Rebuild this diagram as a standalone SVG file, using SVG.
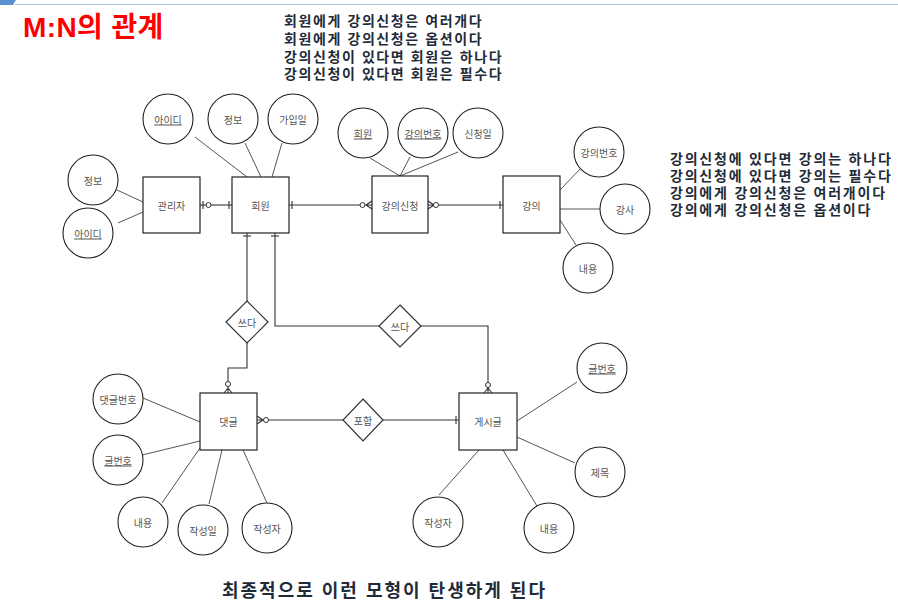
<svg xmlns="http://www.w3.org/2000/svg" width="898" height="611" viewBox="0 0 898 611">
<style>
.ent rect{fill:#fff;stroke:#222;stroke-width:1.2}
.att circle{fill:#fff;stroke:#222;stroke-width:1.1}
.rel polygon{fill:#fff;stroke:#333;stroke-width:1.2}
.lbl{font-family:"Noto Sans CJK KR","Noto Sans",sans-serif;font-size:10px;fill:#555;text-anchor:middle;dominant-baseline:central}
.u{text-decoration:underline}
.ln{stroke:#555;stroke-width:1;fill:none}
.cn{stroke:#333;stroke-width:1.1;fill:none}
.o{fill:#fff;stroke:#333;stroke-width:1}
.note{font-family:"Liberation Sans","Noto Sans CJK KR",sans-serif;font-weight:bold;fill:#1f2b38}
.n1{font-size:14px;letter-spacing:1.6px}
.n2{font-size:14px;letter-spacing:1.8px}
</style>
<rect x="0" y="0" width="898" height="611" fill="#fff"/>
<g id="header">
<polygon points="0,0 16,0 13,5 0,5" fill="#5b8fd0"/>
<line x1="15" y1="4.5" x2="898" y2="4.5" stroke="#a9c4e4" stroke-width="1"/>
<text x="23" y="37" font-family="'Liberation Sans','Noto Sans CJK KR',sans-serif" font-weight="bold" font-size="28" letter-spacing="0.4" fill="#ff0000">M:N의 관계</text>
</g>
<g id="notes" class="note">
<text class="n1" x="284" y="26">회원에게 강의신청은 여러개다</text>
<text class="n1" x="284" y="44">회원에게 강의신청은 옵션이다</text>
<text class="n1" x="284" y="62">강의신청이 있다면 회원은 하나다</text>
<text class="n1" x="284" y="79">강의신청이 있다면 회원은 필수다</text>
<text class="n2" x="670" y="164">강의신청에 있다면 강의는 하나다</text>
<text class="n2" x="670" y="181">강의신청에 있다면 강의는 필수다</text>
<text class="n2" x="670" y="198">강의에게 강의신청은 여러개이다</text>
<text class="n2" x="670" y="215">강의에게 강의신청은 옵션이다</text>
<text x="222" y="597" font-size="18" letter-spacing="2">최종적으로 이런 모형이 탄생하게 된다</text>
</g>
<g id="attr-lines" class="ln">
<line x1="117" y1="190" x2="143" y2="202"/>
<line x1="118" y1="223" x2="143" y2="212"/>
<line x1="195" y1="137" x2="247" y2="177"/>
<line x1="245" y1="143" x2="261" y2="177"/>
<line x1="282" y1="143" x2="272" y2="177"/>
<line x1="370" y1="158" x2="400" y2="176"/>
<line x1="410" y1="157" x2="400" y2="176"/>
<line x1="458" y1="152" x2="400" y2="176"/>
<line x1="560" y1="190" x2="582" y2="167"/>
<line x1="560" y1="209" x2="600" y2="209"/>
<line x1="560" y1="220" x2="576" y2="245"/>
<line x1="143" y1="398" x2="200" y2="422"/>
<line x1="142" y1="455" x2="200" y2="441"/>
<line x1="162" y1="503" x2="200" y2="448"/>
<line x1="209" y1="504" x2="222" y2="450"/>
<line x1="267" y1="503" x2="243" y2="450"/>
<line x1="517" y1="421" x2="577" y2="382"/>
<line x1="517" y1="437" x2="575" y2="463"/>
<line x1="503" y1="450" x2="537" y2="506"/>
<line x1="479" y1="450" x2="439" y2="495"/>
</g>
<g id="connectors" class="cn">
<line x1="200" y1="205" x2="232" y2="205"/>
<line x1="203" y1="201" x2="203" y2="209"/>
<circle class="o" cx="208.5" cy="205" r="2.5"/>
<line x1="229" y1="201" x2="229" y2="209"/>
<line x1="289" y1="205" x2="360" y2="205"/>
<line x1="292" y1="201" x2="292" y2="209"/>
<circle class="o" cx="362.5" cy="205" r="2.5"/>
<path d="M365 205H372M366 205L372 201M366 205L372 209"/>
<line x1="438.5" y1="205" x2="503" y2="205"/>
<path d="M428 205H434M428 201L434 205M428 209L434 205"/>
<circle class="o" cx="436" cy="205" r="2.5"/>
<line x1="500" y1="201" x2="500" y2="209"/>
<line x1="247" y1="233" x2="247" y2="301"/>
<line x1="243" y1="236" x2="251" y2="236"/>
<polyline points="247,343 247,368 228,368 228,381.5"/>
<circle class="o" cx="228" cy="384" r="2.5"/>
<path d="M228 386.5V393M228 388L224 393M228 388L232 393"/>
<polyline points="275,233 275,326 379,326"/>
<line x1="271" y1="236" x2="279" y2="236"/>
<polyline points="421,326 488,326 488,382.5"/>
<circle class="o" cx="488" cy="385" r="2.5"/>
<path d="M488 387.5V393M488 388L484 393M488 388L492 393"/>
<path d="M257 420H263M263 420L257 416M263 420L257 424"/>
<circle class="o" cx="266" cy="420" r="2.5"/>
<line x1="268.5" y1="420" x2="343" y2="420"/>
<line x1="383" y1="420" x2="459" y2="420"/>
<line x1="456" y1="416" x2="456" y2="424"/>
</g>
<g id="rel-write1" class="rel"><polygon points="247,301 268,322 247,343 226,322"/><text class="lbl" x="247" y="322">쓰다</text></g>
<g id="rel-write2" class="rel"><polygon points="400,305 421,326 400,347 379,326"/><text class="lbl" x="400" y="326">쓰다</text></g>
<g id="rel-include" class="rel"><polygon points="363,399 383,420 363,441 343,420"/><text class="lbl" x="363" y="420">포함</text></g>
<g id="ent-admin" class="ent"><rect x="143" y="177" width="57" height="56"/><text class="lbl" x="171.5" y="205">관리자</text></g>
<g id="ent-member" class="ent"><rect x="232" y="177" width="57" height="56"/><text class="lbl" x="260.5" y="205">회원</text></g>
<g id="ent-enroll" class="ent"><rect x="372" y="176" width="56" height="57"/><text class="lbl" x="400" y="205">강의신청</text></g>
<g id="ent-lecture" class="ent"><rect x="503" y="176" width="57" height="57"/><text class="lbl" x="531.5" y="205">강의</text></g>
<g id="ent-comment" class="ent"><rect x="200" y="393" width="57" height="57"/><text class="lbl" x="228.5" y="421">댓글</text></g>
<g id="ent-post" class="ent"><rect x="459" y="393" width="58" height="57"/><text class="lbl" x="488" y="421">게시글</text></g>
<g id="att-admin-info" class="att"><circle cx="93" cy="180" r="25"/><text class="lbl" x="93" y="180">정보</text></g>
<g id="att-admin-id" class="att"><circle cx="88" cy="233" r="25"/><text class="lbl u" x="88" y="233">아이디</text></g>
<g id="att-member-id" class="att"><circle cx="168" cy="119" r="25"/><text class="lbl u" x="168" y="119">아이디</text></g>
<g id="att-member-info" class="att"><circle cx="233" cy="119" r="25"/><text class="lbl" x="233" y="119">정보</text></g>
<g id="att-member-join" class="att"><circle cx="293" cy="119" r="25"/><text class="lbl" x="293" y="119">가입일</text></g>
<g id="att-enroll-member" class="att"><circle cx="363" cy="133" r="25"/><text class="lbl u" x="363" y="133">회원</text></g>
<g id="att-enroll-lecno" class="att"><circle cx="423" cy="133" r="25"/><text class="lbl u" x="423" y="133">강의번호</text></g>
<g id="att-enroll-date" class="att"><circle cx="478" cy="133" r="25"/><text class="lbl" x="478" y="133">신청일</text></g>
<g id="att-lec-no" class="att"><circle cx="599" cy="152" r="25"/><text class="lbl" x="599" y="152">강의번호</text></g>
<g id="att-lec-teacher" class="att"><circle cx="625" cy="209" r="25"/><text class="lbl" x="625" y="209">강사</text></g>
<g id="att-lec-content" class="att"><circle cx="588" cy="268" r="25"/><text class="lbl" x="588" y="268">내용</text></g>
<g id="att-cmt-no" class="att"><circle cx="118" cy="399" r="25"/><text class="lbl" x="118" y="399">댓글번호</text></g>
<g id="att-cmt-postno" class="att"><circle cx="118" cy="460" r="25"/><text class="lbl u" x="118" y="460">글번호</text></g>
<g id="att-cmt-content" class="att"><circle cx="143" cy="522" r="25"/><text class="lbl" x="143" y="522">내용</text></g>
<g id="att-cmt-date" class="att"><circle cx="203" cy="530" r="25"/><text class="lbl" x="203" y="530">작성일</text></g>
<g id="att-cmt-writer" class="att"><circle cx="267" cy="528" r="25"/><text class="lbl" x="267" y="528">작성자</text></g>
<g id="att-post-no" class="att"><circle cx="602" cy="368" r="25"/><text class="lbl u" x="602" y="368">글번호</text></g>
<g id="att-post-title" class="att"><circle cx="600" cy="472" r="25"/><text class="lbl" x="600" y="472">제목</text></g>
<g id="att-post-content" class="att"><circle cx="549" cy="528" r="25"/><text class="lbl" x="549" y="528">내용</text></g>
<g id="att-post-writer" class="att"><circle cx="438" cy="522" r="25"/><text class="lbl" x="438" y="522">작성자</text></g>
</svg>
